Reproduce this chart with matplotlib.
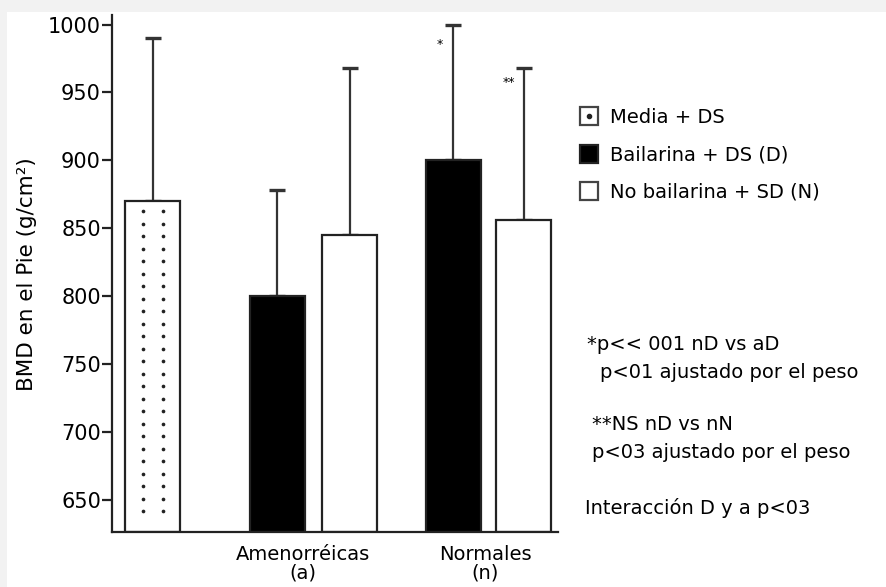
import matplotlib
matplotlib.use("Agg")
import matplotlib.pyplot as plt
from matplotlib.lines import Line2D
from matplotlib.patches import Rectangle
from matplotlib.legend_handler import HandlerTuple
import numpy as np

# values
bar_names = ["Media", "Amen D", "Amen N", "Norm D", "Norm N"]
bar_means = [870, 800, 845, 900, 856]
bar_sd = [120, 78, 123, 100, 112]
bar_kind = ["media", "D", "N", "D", "N"]
bar_x = [0.74, 3.0, 4.32, 6.2, 7.48]
group_labels = ["Amenorréicas\n(a)", "Normales\n(n)"]
group_x = [3.47, 6.78]
yticks = [650, 700, 750, 800, 850, 900, 950, 1000]
notes = ["*p<< 001 nD vs aD", "p<01 ajustado por el peso",
         "**NS nD vs nN", "p<03 ajustado por el peso",
         "Interacción D y a p<03"]

W, H = 887, 587
plt.rcParams['font.family'] = ['DejaVu Sans']


def fx(px):
    return px / W


def fy(py):
    return 1 - py / H


fig = plt.figure(figsize=(W / 100, H / 100), dpi=100, facecolor='#f2f2f2')
fig.patches.append(Rectangle((fx(7), 0), 1, fy(12), transform=fig.transFigure,
                             facecolor='white', edgecolor='none', zorder=-5))

ax = fig.add_axes([fx(112), fy(532), fx(558) - fx(112), fy(15) - fy(532)])
ax.set_facecolor('none')
ax.set_xlim(0, 8.1)
ax.set_ylim(626.4, 1007)

width = 1.0
colors = {"media": "white", "D": "black", "N": "white"}
for x, m, sd, k in zip(bar_x, bar_means, bar_sd, bar_kind):
    ax.bar(x, m - 626.4, width, bottom=626.4, color=colors[k],
           edgecolor='#222', linewidth=1.6, zorder=2)
    ax.errorbar(x, m, yerr=[[0], [sd]], fmt='none', ecolor='#333',
                elinewidth=1.6, capsize=5.5, capthick=2.4, zorder=1)

# dotted fill of the "Media" bar
mx = bar_x[0]
dot_y = np.arange(bar_means[0] - 7.5, 640, -9.2)
for off in (-0.18, 0.18):
    ax.scatter(np.full(len(dot_y), mx + off), dot_y, s=7, color='#222',
               zorder=3, linewidths=0)

# significance marks
ax.text(bar_x[3] - 0.25, 985, "*", fontsize=9, ha='center', va='center')
ax.text(bar_x[4] - 0.27, 957, "**", fontsize=9, ha='center', va='center')

for s in ['top', 'right']:
    ax.spines[s].set_visible(False)
for s in ['left', 'bottom']:
    ax.spines[s].set_linewidth(1.6)
    ax.spines[s].set_color('#222')

ax.set_yticks(yticks)
ax.tick_params(axis='y', length=7, width=1.6, pad=1, labelsize=15, color='#222')
ax.set_xticks(group_x)
ax.set_xticklabels(group_labels, fontsize=14, linespacing=1.0)
ax.tick_params(axis='x', length=0, pad=9)

fig.text(fx(27), fy(274), "BMD en el Pie (g/cm²)", rotation=90, fontsize=15.5,
         ha='center', va='center')

# legend
h_media = (Line2D([], [], marker='s', ms=13, mfc='white', mec='#444', mew=1.6, ls=''),
           Line2D([], [], marker='o', ms=3, color='#222', ls=''))
h_d = Line2D([], [], marker='s', ms=13, mfc='black', mec='#222', mew=1.6, ls='')
h_n = Line2D([], [], marker='s', ms=13, mfc='white', mec='#444', mew=1.6, ls='')
fig.legend([h_media, h_d, h_n],
           ["Media + DS", "Bailarina + DS (D)", "No bailarina + SD (N)"],
           handler_map={tuple: HandlerTuple(ndivide=1)},
           loc='upper left', bbox_to_anchor=(fx(579), fy(108)), frameon=False,
           fontsize=14, handlelength=1.0, handletextpad=0.6, labelspacing=0.95,
           borderpad=0, borderaxespad=0)

note_pos = [(587, 345), (600, 372), (592, 425), (592, 452), (585, 508)]
for t, (px, py) in zip(notes, note_pos):
    fig.text(fx(px), fy(py), t, fontsize=14, ha='left', va='center')

fig.savefig("out.png", dpi=100, facecolor=fig.get_facecolor())
